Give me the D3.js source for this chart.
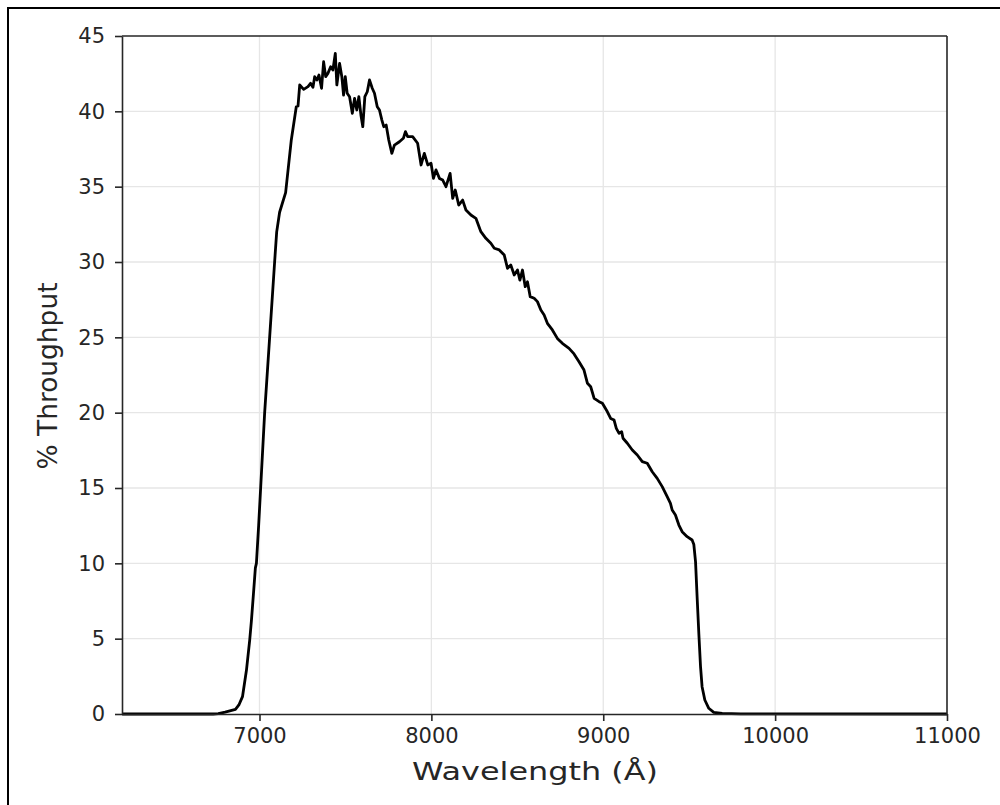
<!DOCTYPE html>
<html>
<head>
<meta charset="utf-8">
<script src="https://cdn.jsdelivr.net/npm/d3@7"></script>
<style>
  body { margin: 0; background: #fff; }
  svg { display: block; font-family: "DejaVu Sans", sans-serif; }
  .axis path, .axis line { stroke: #262626; stroke-width: 1.6; }
  .axis text { fill: #262626; font-size: 21px; font-family: "DejaVu Sans", sans-serif; }
  .grid line { stroke: #e6e6e6; stroke-width: 1.3; }
</style>
</head>
<body>
<div id="chart"></div>
<script>

// filter throughput curve
var wavelength = [
  6200, 6730, 6760, 6800, 6860, 6880, 6901, 6924, 6943, 6953,
  6965, 6976, 6982, 6995, 7030, 7059, 7088, 7100, 7117, 7133,
  7152, 7185, 7214, 7224, 7234, 7257, 7282, 7297, 7311, 7321,
  7334, 7346, 7361, 7373, 7385, 7398, 7414, 7427, 7441, 7450,
  7466, 7479, 7489, 7499, 7510, 7524, 7540, 7553, 7566, 7578,
  7590, 7601, 7613, 7627, 7640, 7656, 7669, 7685, 7698, 7712,
  7723, 7737, 7752, 7770, 7785, 7814, 7837, 7849, 7862, 7891,
  7920, 7940, 7959, 7979, 7998, 8012, 8027, 8047, 8066, 8085,
  8109, 8124, 8139, 8159, 8182, 8201, 8230, 8259, 8288, 8317,
  8346, 8366, 8395, 8424, 8443, 8462, 8482, 8501, 8515, 8530,
  8546, 8559, 8575, 8598, 8617, 8637, 8656, 8675, 8704, 8733,
  8762, 8801, 8830, 8859, 8888, 8908, 8927, 8947, 8976, 8995,
  9024, 9043, 9063, 9076, 9092, 9107, 9115, 9140, 9169, 9198,
  9227, 9256, 9285, 9314, 9343, 9372, 9391, 9401, 9420, 9440,
  9459, 9488, 9517, 9527, 9537, 9546, 9556, 9566, 9575, 9591,
  9614, 9643, 9692, 9800, 11000
];

var throughput = [
  0, 0, 0.03, 0.12, 0.31, 0.6, 1.15, 2.9, 4.9, 6.2,
  8.0, 9.7, 10.0, 12.5, 20, 25, 30, 32, 33.3, 33.9,
  34.6, 38.1, 40.3, 40.35, 41.75, 41.46, 41.64, 41.86, 41.59, 42.3,
  42.08, 42.41, 41.53, 43.29, 42.3, 42.52, 42.96, 42.74, 43.85, 41.75,
  43.18, 42.3, 41.08, 42.3, 41.2, 40.97, 39.87, 40.86, 40.09, 40.97,
  39.76, 38.98, 40.97, 41.3, 42.08, 41.53, 41.2, 40.31, 40.09, 39.42,
  38.98, 39.09, 38.1, 37.21, 37.76, 37.98, 38.21, 38.65, 38.32, 38.32,
  37.88, 36.44, 37.21, 36.44, 36.55, 35.55, 36.11, 35.55, 35.44, 35.0,
  35.88, 34.22, 34.78, 33.78, 34.11, 33.45, 33.12, 32.9, 32.01, 31.57,
  31.24, 30.91, 30.8, 30.46, 29.58, 29.8, 29.14, 29.47, 28.8, 29.47,
  28.36, 28.69, 27.7, 27.59, 27.37, 26.81, 26.48, 25.93, 25.49, 24.93,
  24.6, 24.27, 23.9, 23.38, 22.83, 21.95, 21.72, 20.95, 20.73, 20.62,
  20.06, 19.62, 19.51, 18.96, 18.63, 18.74, 18.3, 17.97, 17.52, 17.19,
  16.75, 16.64, 16.08, 15.64, 15.09, 14.42, 13.98, 13.54, 13.21, 12.54,
  12.1, 11.77, 11.55, 11.25, 10.1, 7.8, 5.36, 3.14, 1.81, 0.93,
  0.38, 0.11, 0.04, 0.01, 0
];

var xTicks = [7000, 8000, 9000, 10000, 11000];
var yTicks = [0, 5, 10, 15, 20, 25, 30, 35, 40, 45];
var xDomain = [6200, 11000];
var yDomain = [0, 45];

// svg properties
var W = 1000, H = 805;
var margin = { top: 36, right: 53, bottom: 91, left: 122 },
    width = W - margin.left - margin.right,
    height = H - margin.top - margin.bottom;

var data = wavelength.map(function (w, i) { return { w: w, t: throughput[i] }; });

var svg = d3.select('#chart').append('svg')
    .attr('width', W).attr('height', H);

// outer frame (cut off at right / bottom like the source image)
svg.append('rect')
    .attr('x', 8).attr('y', 8)
    .attr('width', W + 20).attr('height', H + 20)
    .attr('fill', 'none').attr('stroke', '#000').attr('stroke-width', 2);

var g = svg.append('g').attr('transform', 'translate(' + margin.left + ',' + margin.top + ')');

//************ SCALES ************
var x = d3.scaleLinear().domain(xDomain).range([0, width]);
var y = d3.scaleLinear().domain(yDomain).range([height, 0]);

//************ GRID ************
g.append('g').attr('class', 'grid')
    .selectAll('line').data(xTicks.filter(function (d) { return d < xDomain[1]; })).enter()
    .append('line')
    .attr('x1', function (d) { return x(d); }).attr('x2', function (d) { return x(d); })
    .attr('y1', 0).attr('y2', height);
g.append('g').attr('class', 'grid')
    .selectAll('line').data(yTicks.filter(function (d) { return d > yDomain[0] && d < yDomain[1]; })).enter()
    .append('line')
    .attr('y1', function (d) { return y(d); }).attr('y2', function (d) { return y(d); })
    .attr('x1', 0).attr('x2', width);

//************ CURVE ************
var line = d3.line()
    .x(function (d) { return x(d.w); })
    .y(function (d) { return y(d.t); });

g.append('path').datum(data)
    .attr('d', line)
    .attr('fill', 'none')
    .attr('stroke', '#000')
    .attr('stroke-width', 2.8)
    .attr('stroke-linejoin', 'round');

//************ AXES ************
// top / right spines
g.append('line').attr('class', 'spine')
    .attr('x1', 0).attr('x2', width).attr('y1', 0).attr('y2', 0)
    .attr('stroke', '#262626').attr('stroke-width', 1.6);
g.append('line').attr('class', 'spine')
    .attr('x1', width).attr('x2', width).attr('y1', 0).attr('y2', height)
    .attr('stroke', '#262626').attr('stroke-width', 1.6);

g.append('g').attr('class', 'axis')
    .attr('transform', 'translate(0,' + height + ')')
    .call(d3.axisBottom(x).tickValues(xTicks).tickFormat(d3.format('d'))
        .tickSizeInner(7).tickSizeOuter(0).tickPadding(7));

g.append('g').attr('class', 'axis')
    .call(d3.axisLeft(y).tickValues(yTicks).tickFormat(d3.format('d'))
        .tickSizeInner(7).tickSizeOuter(0).tickPadding(10));

//************ LABELS ************
svg.append('text')
    .attr('x', 535).attr('y', 780)
    .attr('text-anchor', 'middle')
    .attr('font-size', 24)
    .attr('fill', '#262626')
    .attr('textLength', 246).attr('lengthAdjust', 'spacingAndGlyphs')
    .text('Wavelength (Å)');

svg.append('text')
    .attr('transform', 'translate(57,376) rotate(-90)')
    .attr('text-anchor', 'middle')
    .attr('font-size', 26)
    .attr('fill', '#262626')
    .attr('textLength', 187).attr('lengthAdjust', 'spacingAndGlyphs')
    .text('% Throughput');

</script>
</body>
</html>
